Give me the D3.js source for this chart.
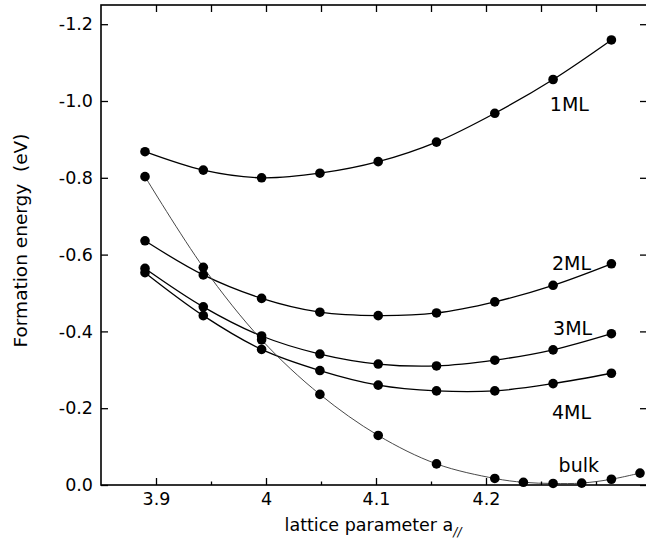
<!DOCTYPE html>
<html>
<head>
<meta charset="utf-8">
<script src="https://cdn.jsdelivr.net/npm/d3@7"></script>
<style>
  html, body { margin: 0; padding: 0; background: #fff; }
  svg { display: block; font-family: "DejaVu Sans", "Liberation Sans", Arial, sans-serif; }
</style>
</head>
<body>
<svg id="chart" width="646" height="546"></svg>
<script>
// ---- data ----
const latticeML = [3.890, 3.943, 3.996, 4.049, 4.102, 4.155, 4.208, 4.261, 4.314];
const latticeBulk = [3.890, 3.943, 3.996, 4.049, 4.102, 4.155, 4.208, 4.234, 4.261, 4.287, 4.314, 4.340];
const energy1ML = [-0.868, -0.820, -0.800, -0.812, -0.842, -0.893, -0.968, -1.056, -1.159];
const energy2ML = [-0.636, -0.547, -0.486, -0.450, -0.441, -0.448, -0.477, -0.520, -0.576];
const energy3ML = [-0.564, -0.464, -0.388, -0.341, -0.315, -0.310, -0.325, -0.352, -0.394];
const energy4ML = [-0.553, -0.441, -0.353, -0.298, -0.260, -0.245, -0.245, -0.264, -0.291];
const energyBulk = [-0.803, -0.567, -0.378, -0.236, -0.129, -0.055, -0.017, -0.007, -0.004, -0.005, -0.015, -0.031];
const seriesNames = ["1ML", "2ML", "3ML", "4ML", "bulk"];
const labelX = [4.258, 4.260, 4.261, 4.260, 4.266];
const labelY = [-0.975, -0.560, -0.390, -0.172, -0.035];
const xTicks = [3.9, 4.0, 4.1, 4.2];
const xTickLabels = ["3.9", "4", "4.1", "4.2"];
const xMinorTicks = [3.95, 4.05, 4.15, 4.25, 4.3];
const yTicks = [0, -0.2, -0.4, -0.6, -0.8, -1.0, -1.2];
const yTickLabels = ["0.0", "-0.2", "-0.4", "-0.6", "-0.8", "-1.0", "-1.2"];
const xTitle = "lattice parameter a";
const xTitleSub = "//";
const yTitle = "Formation energy\u00a0 (eV)";

// ---- layout ----
const svg = d3.select("#chart");
const L = 101, R = 647, T = 5, B = 485;
const x = d3.scaleLinear().domain([3.85, 3.85 + (R - L) / 1100]).range([L, R]);
const y = d3.scaleLinear().domain([0, -1.25]).range([B, T]);

const series = [
  { name: seriesNames[0], xs: latticeML, ys: energy1ML, w: 1.3, c: "#000" },
  { name: seriesNames[1], xs: latticeML, ys: energy2ML, w: 1.3, c: "#000" },
  { name: seriesNames[2], xs: latticeML, ys: energy3ML, w: 1.3, c: "#000" },
  { name: seriesNames[3], xs: latticeML, ys: energy4ML, w: 1.3, c: "#000" },
  { name: seriesNames[4], xs: latticeBulk, ys: energyBulk, w: 0.9, c: "#333" }
];

const line = d3.line()
  .x(d => x(d[0]))
  .y(d => y(d[1]))
  .curve(d3.curveCatmullRom.alpha(0.5));

const plot = svg.append("g");
series.forEach(s => {
  const pts = s.xs.map((v, i) => [v, s.ys[i]]);
  plot.append("path")
    .attr("d", line(pts))
    .attr("fill", "none")
    .attr("stroke", s.c)
    .attr("stroke-width", s.w);
});
series.forEach(s => {
  const pts = s.xs.map((v, i) => [v, s.ys[i]]);
  plot.selectAll(null).data(pts).enter().append("circle")
    .attr("cx", d => x(d[0]))
    .attr("cy", d => y(d[1]))
    .attr("r", 4.8)
    .attr("fill", "#000");
});

// series labels
series.forEach((s, i) => {
  svg.append("text")
    .attr("x", x(labelX[i]))
    .attr("y", y(labelY[i]))
    .attr("font-size", 19)
    .attr("fill", "#000")
    .text(s.name);
});

// ---- axes ----
const fmtX = (d) => xTickLabels[xTicks.indexOf(d)];
const fmtY = (d) => yTickLabels[yTicks.indexOf(d)];

const axisStyle = g => {
  g.select(".domain").remove();
  g.selectAll(".tick line").attr("stroke", "#000").attr("stroke-width", 1.3);
  g.selectAll(".tick text").attr("font-size", 17.5).attr("fill", "#000")
    .attr("font-family", '"DejaVu Sans", "Liberation Sans", Arial, sans-serif');
};

// bottom major
svg.append("g").attr("transform", `translate(0,${B})`)
  .call(d3.axisBottom(x).tickValues(xTicks).tickFormat(fmtX).tickSizeInner(-7).tickSizeOuter(0).tickPadding(8))
  .call(axisStyle);
// bottom minor
svg.append("g").attr("transform", `translate(0,${B})`)
  .call(d3.axisBottom(x).tickValues(xMinorTicks).tickFormat("").tickSizeInner(-3.5).tickSizeOuter(0))
  .call(axisStyle);
// top ticks
svg.append("g").attr("transform", `translate(0,${T})`)
  .call(d3.axisTop(x).tickValues(xTicks.concat(xMinorTicks)).tickFormat("").tickSizeInner(-7).tickSizeOuter(0))
  .call(axisStyle);
// left
svg.append("g").attr("transform", `translate(${L},0)`)
  .call(d3.axisLeft(y).tickValues(yTicks).tickFormat(fmtY).tickSizeInner(-7).tickSizeOuter(0).tickPadding(8))
  .call(axisStyle);
// right
svg.append("g").attr("transform", `translate(${R - 1},0)`)
  .call(d3.axisRight(y).tickValues(yTicks).tickFormat("").tickSizeInner(-6).tickSizeOuter(0))
  .call(axisStyle);

// frame
svg.append("rect")
  .attr("x", L).attr("y", T)
  .attr("width", R - L).attr("height", B - T)
  .attr("fill", "none").attr("stroke", "#000").attr("stroke-width", 1.6);

// titles
const xt = svg.append("text")
  .attr("x", (L + 645) / 2)
  .attr("y", 531)
  .attr("text-anchor", "middle")
  .attr("font-size", 17.5)
  .attr("fill", "#000");
xt.append("tspan").text(xTitle);
xt.append("tspan").attr("font-size", 12).attr("font-style", "italic").attr("dy", 5).text(xTitleSub);

svg.append("text")
  .attr("transform", `translate(27,${(131 + 350) / 2}) rotate(-90)`)
  .attr("text-anchor", "middle")
  .attr("font-size", 18.5)
  .attr("fill", "#000")
  .text(yTitle);
</script>
</body>
</html>
